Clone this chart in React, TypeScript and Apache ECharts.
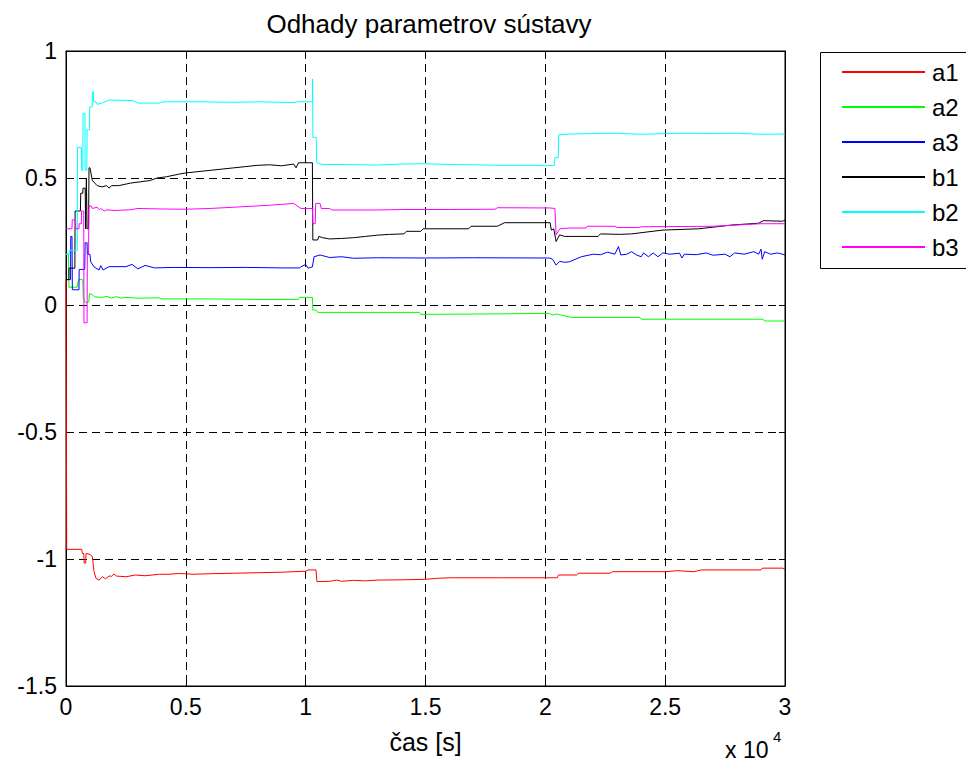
import React, { useEffect, useRef } from "react";
import * as echarts from "echarts";

const seriesNames = ["a1", "a2", "a3", "b1", "b2", "b3"];
const seriesColors = ["#ff0000", "#00ff00", "#0000ff", "#000000", "#00ffff", "#ff00ff"];
const xTickValues = [0, 5000, 10000, 15000, 20000, 25000, 30000];
const yTickValues = [-1.5, -1, -0.5, 0, 0.5, 1];

const a1: [number, number][] = [
  [0, 0.1], [30, -0.962], [655, -0.962], [680, -0.978], [740, -0.978], [760, -1.016], [820, -1.016],
  [840, -0.978], [1000, -0.982], [1100, -0.99], [1170, -1.05], [1250, -1.076], [1380, -1.083],
  [1520, -1.07], [1650, -1.078], [1800, -1.067], [1900, -1.068], [2000, -1.059], [2100, -1.067],
  [2500, -1.07], [2900, -1.063], [3300, -1.066], [3900, -1.06], [4300, -1.06], [4700, -1.057],
  [5300, -1.06], [6000, -1.058], [7000, -1.056], [8000, -1.054], [9000, -1.052], [10000, -1.048],
  [10100, -1.043], [10430, -1.043], [10470, -1.089], [11000, -1.088], [11300, -1.083], [11500, -1.088],
  [12000, -1.084], [12500, -1.086], [13000, -1.083], [14000, -1.082], [15000, -1.08], [15500, -1.076],
  [16000, -1.074], [18000, -1.074], [20500, -1.074], [20550, -1.063], [21300, -1.063], [21400, -1.056],
  [22700, -1.056], [22800, -1.05], [25000, -1.05], [25500, -1.046], [26200, -1.05], [26500, -1.043],
  [29000, -1.043], [29050, -1.036], [29900, -1.036], [30000, -1.04],
];

const a2: [number, number][] = [
  [0, 0.2], [100, 0.2], [125, 0.07], [470, 0.07], [480, 0.085], [540, 0.1], [700, 0.1], [720, 0.03],
  [800, 0.01], [950, 0.012], [980, 0.045], [1100, 0.04], [1200, 0.032], [1500, 0.03], [1700, 0.034],
  [1900, 0.027], [2100, 0.033], [2300, 0.027], [2500, 0.03], [3000, 0.027], [3900, 0.028], [4000, 0.024],
  [6000, 0.024], [8000, 0.022], [9700, 0.022], [9750, 0.03], [10280, 0.03], [10300, -0.02], [10450, -0.02],
  [10500, -0.029], [14750, -0.029], [14800, -0.037], [18000, -0.035], [20180, -0.033], [20300, -0.04],
  [20450, -0.035], [21090, -0.049], [23940, -0.049], [24000, -0.056], [29080, -0.056], [29150, -0.063],
  [30000, -0.063],
];

const a3: [number, number][] = [
  [0, 0.1], [190, 0.1], [200, 0.27], [250, 0.27], [265, 0.06], [540, 0.06], [550, 0.14], [780, 0.14],
  [800, 0.245], [880, 0.245], [890, 0.2], [1000, 0.2], [1030, 0.17], [1170, 0.15], [1250, 0.145],
  [1380, 0.138], [1450, 0.155], [1550, 0.138], [1800, 0.151], [2500, 0.151], [2760, 0.16], [3000, 0.142],
  [3300, 0.156], [3700, 0.146], [4500, 0.148], [6000, 0.147], [7500, 0.148], [9000, 0.146], [9750, 0.146],
  [9800, 0.15], [10000, 0.16], [10100, 0.145], [10280, 0.15], [10350, 0.19], [10600, 0.197], [11000, 0.187],
  [11500, 0.19], [12000, 0.184], [13000, 0.186], [15000, 0.185], [17000, 0.186], [20180, 0.185],
  [20300, 0.18], [20450, 0.157], [20600, 0.172], [20800, 0.168], [21000, 0.17], [21500, 0.19], [22000, 0.2],
  [22300, 0.198], [22600, 0.208], [22900, 0.2], [23050, 0.23], [23150, 0.197], [23400, 0.2], [23600, 0.21],
  [23800, 0.197], [24000, 0.19], [24100, 0.205], [24300, 0.19], [24500, 0.205], [24700, 0.19],
  [24900, 0.205], [25200, 0.2], [25600, 0.204], [25700, 0.185], [25800, 0.2], [26300, 0.198], [26700, 0.205],
  [27000, 0.196], [27500, 0.2], [27700, 0.19], [27900, 0.205], [28300, 0.2], [28700, 0.21], [28900, 0.2],
  [29000, 0.22], [29050, 0.18], [29150, 0.21], [29400, 0.2], [29700, 0.205], [30000, 0.197],
];

const b1: [number, number][] = [
  [0, 0.1], [120, 0.1], [125, 0.145], [370, 0.145], [380, 0.37], [600, 0.37], [615, 0.44], [700, 0.44],
  [710, 0.46], [800, 0.46], [820, 0.3], [850, 0.5], [880, 0.3], [940, 0.3], [960, 0.54], [1000, 0.54],
  [1100, 0.49], [1200, 0.48], [1300, 0.47], [1500, 0.465], [1700, 0.47], [1800, 0.46], [1900, 0.47],
  [2200, 0.47], [2700, 0.48], [3100, 0.485], [3500, 0.49], [3800, 0.5], [4200, 0.505], [4700, 0.515],
  [5000, 0.52], [5500, 0.525], [6000, 0.53], [6500, 0.535], [7000, 0.54], [7500, 0.545], [8000, 0.55],
  [8500, 0.552], [9000, 0.548], [9500, 0.555], [9600, 0.54], [9700, 0.56], [10280, 0.56], [10300, 0.256],
  [10500, 0.256], [10550, 0.27], [10700, 0.265], [11000, 0.26], [11500, 0.262], [12000, 0.265],
  [12500, 0.27], [13000, 0.275], [13500, 0.278], [14100, 0.28], [14200, 0.29], [14800, 0.29], [14900, 0.3],
  [16800, 0.3], [16900, 0.31], [18000, 0.31], [18300, 0.324], [20200, 0.324], [20250, 0.295],
  [20350, 0.3], [20450, 0.25], [20600, 0.276], [20800, 0.27], [22200, 0.27], [22300, 0.28], [23100, 0.278],
  [23600, 0.28], [24900, 0.295], [26400, 0.3], [27800, 0.315], [28900, 0.322], [29100, 0.332],
  [29900, 0.33], [30000, 0.334],
];

const b2: [number, number][] = [
  [0, 0.2], [130, 0.2], [140, 0.215], [470, 0.215], [480, 0.62], [640, 0.62], [650, 0.53], [700, 0.53],
  [710, 0.755], [790, 0.755], [800, 0.53], [870, 0.53], [880, 0.69], [980, 0.69], [990, 0.78],
  [1090, 0.78], [1100, 0.84], [1140, 0.84], [1150, 0.8], [1250, 0.8], [1300, 0.79], [1500, 0.795],
  [1800, 0.807], [2800, 0.805], [3000, 0.795], [3900, 0.795], [4000, 0.8], [5500, 0.8], [7000, 0.798],
  [8000, 0.8], [9500, 0.797], [9700, 0.8], [10280, 0.8], [10290, 0.89], [10300, 0.66], [10440, 0.66],
  [10460, 0.56], [10700, 0.553], [11500, 0.553], [13000, 0.551], [14000, 0.555], [15000, 0.556],
  [16000, 0.553], [17000, 0.552], [18000, 0.55], [19500, 0.55], [20000, 0.548], [20380, 0.55],
  [20400, 0.58], [20540, 0.58], [20560, 0.67], [21000, 0.673], [22000, 0.675], [23000, 0.676],
  [24000, 0.672], [25000, 0.675], [26000, 0.676], [27000, 0.675], [28000, 0.676], [29000, 0.672],
  [30000, 0.673],
];

const b3: [number, number][] = [
  [0, 0.3], [250, 0.3], [260, 0.335], [400, 0.335], [410, 0.3], [540, 0.3], [550, 0.32], [640, 0.32],
  [650, 0.37], [740, 0.37], [750, -0.07], [880, -0.07], [890, 0.2], [940, 0.2], [960, 0.39], [1050, 0.39],
  [1100, 0.38], [1300, 0.385], [1400, 0.375], [1450, 0.38], [1600, 0.37], [1700, 0.375], [2000, 0.372],
  [2700, 0.375], [3000, 0.38], [4000, 0.378], [5000, 0.377], [6000, 0.38], [7000, 0.385], [8000, 0.39],
  [8500, 0.393], [9000, 0.396], [9500, 0.4], [9800, 0.38], [10280, 0.38], [10300, 0.32], [10400, 0.32],
  [10420, 0.4], [10600, 0.4], [10650, 0.38], [11000, 0.38], [11100, 0.374], [13000, 0.374], [14000, 0.376],
  [16000, 0.376], [17900, 0.377], [18000, 0.383], [20200, 0.382], [20400, 0.38], [20450, 0.276],
  [20600, 0.3], [21000, 0.303], [21700, 0.303], [21750, 0.31], [22900, 0.31], [23000, 0.305],
  [23900, 0.305], [24000, 0.308], [27000, 0.31], [28000, 0.315], [29000, 0.32], [30000, 0.32],
];

const seriesData = [a1, a2, a3, b1, b2, b3];

const FONT = "'Liberation Sans', Arial, Helvetica, sans-serif";

export default function App() {
  const ref = useRef<HTMLDivElement>(null);
  useEffect(() => {
    if (!ref.current) return;
    const chart = echarts.init(ref.current, null, { renderer: "svg" });
    const gridLeft = 66, gridTop = 51, gridRight = 785, gridBottom = 686;
    const tickStyle = { show: true, inside: true, length: 6, lineStyle: { color: "#000", width: 1 } };
    const option: any = {
      animation: false,
      backgroundColor: "#fff",
      title: {
        text: "Odhady parametrov sústavy",
        left: 424,
        textAlign: "center",
        top: 6,
        textStyle: { fontFamily: FONT, fontSize: 26, fontWeight: "normal", color: "#000" },
      },
      grid: {
        left: gridLeft,
        top: gridTop,
        width: gridRight - gridLeft,
        height: gridBottom - gridTop,
        show: true,
        borderColor: "#000",
        borderWidth: 1,
        backgroundColor: "#fff",
      },
      legend: {
        orient: "vertical",
        left: 837,
        top: 55,
        icon: "rect",
        itemWidth: 83,
        itemHeight: 2,
        itemGap: 11,
        data: seriesNames,
        textStyle: { fontFamily: FONT, fontSize: 24, lineHeight: 22, color: "#000", padding: [0, 0, 0, 2] },
      },
      xAxis: [
        {
          type: "value",
          min: 0,
          max: 30000,
          interval: 5000,
          position: "bottom",
          name: "čas [s]",
          nameLocation: "middle",
          nameGap: 43,
          nameTextStyle: { fontFamily: FONT, fontSize: 25, color: "#000" },
          axisLine: { show: true, onZero: false, lineStyle: { color: "#000", width: 1 } },
          axisTick: tickStyle,
          axisLabel: {
            margin: 9,
            fontFamily: FONT,
            fontSize: 23,
            color: "#000",
            formatter: (v: number) => String(v / 10000),
          },
          splitLine: { show: true, lineStyle: { color: "#000", type: [8, 5], width: 1 } },
        },
        {
          type: "value",
          min: 0,
          max: 30000,
          interval: 5000,
          position: "top",
          axisLine: { show: true, onZero: false, lineStyle: { color: "#000", width: 1 } },
          axisTick: tickStyle,
          axisLabel: { show: false },
          splitLine: { show: false },
        },
      ],
      yAxis: [
        {
          type: "value",
          min: -1.5,
          max: 1,
          interval: 0.5,
          position: "left",
          axisLine: { show: true, onZero: false, lineStyle: { color: "#000", width: 1 } },
          axisTick: tickStyle,
          axisLabel: { margin: 9, fontFamily: FONT, fontSize: 23, color: "#000" },
          splitLine: { show: true, lineStyle: { color: "#000", type: [8, 5], width: 1 } },
        },
        {
          type: "value",
          min: -1.5,
          max: 1,
          interval: 0.5,
          position: "right",
          axisLine: { show: true, onZero: false, lineStyle: { color: "#000", width: 1 } },
          axisTick: tickStyle,
          axisLabel: { show: false },
          splitLine: { show: false },
        },
      ],
      graphic: [
        {
          type: "rect",
          z: -1,
          shape: { x: 820.5, y: 52.5, width: 200, height: 216 },
          style: { fill: "#fff", stroke: "#000", lineWidth: 1 },
        },
        {
          type: "text",
          left: 725,
          top: 738,
          style: { text: "x 10", fontFamily: FONT, fontSize: 23, fill: "#000" },
        },
        {
          type: "text",
          left: 773,
          top: 729,
          style: { text: "4", fontFamily: FONT, fontSize: 15, fill: "#000" },
        },
      ],
      series: seriesNames.map((name, i) => ({
        name,
        type: "line",
        xAxisIndex: 0,
        yAxisIndex: 0,
        data: seriesData[i],
        showSymbol: false,
        symbol: "none",
        color: seriesColors[i],
        lineStyle: { color: seriesColors[i], width: 1 },
        clip: true,
        z: 3 + i,
      })),
    };
    chart.setOption(option);
    return () => chart.dispose();
  }, []);
  return (
    <div
      ref={ref}
      style={{ position: "fixed", left: 0, top: 0, width: 966, height: 764, background: "#fff" }}
    />
  );
}
